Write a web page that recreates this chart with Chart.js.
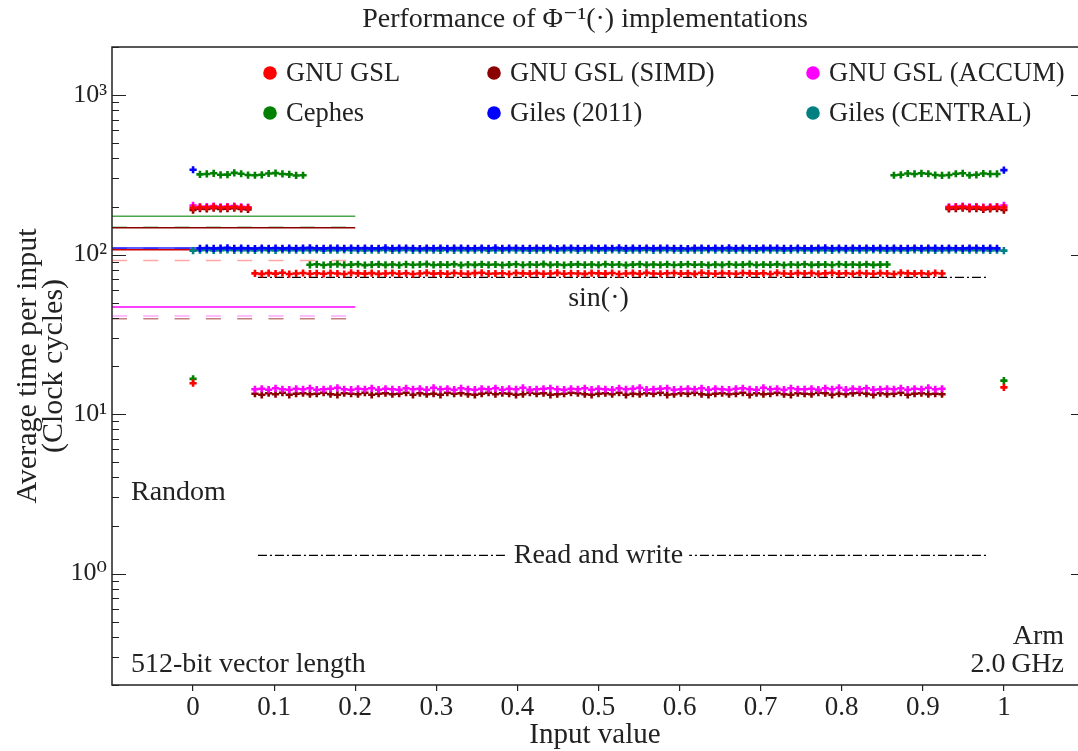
<!DOCTYPE html>
<html><head><meta charset="utf-8">
<script src="https://cdn.jsdelivr.net/npm/chart.js@4.4.1/dist/chart.umd.min.js"></script>
<style>html,body{margin:0;padding:0;background:#fff;}#wrap{width:1078px;height:751px;}</style>
</head><body><div id="wrap"><canvas id="c" width="1078" height="751"></canvas></div>
<script>
// ---------- DATA ----------
const inputs = [0,.0085,.0169,.0254,.0339,.0424,.0508,.0593,.0678,.0763,
.0847,.0932,.1017,.1102,.1186,.1271,.1356,.1441,.1525,.1610,
.1695,.1780,.1864,.1949,.2034,.2119,.2203,.2288,.2373,.2458,
.2542,.2627,.2712,.2797,.2881,.2966,.3051,.3136,.3220,.3305,
.3390,.3475,.3559,.3644,.3729,.3814,.3898,.3983,.4068,.4153,
.4237,.4322,.4407,.4492,.4576,.4661,.4746,.4831,.4915,.5000,
.5085,.5169,.5254,.5339,.5424,.5508,.5593,.5678,.5763,.5847,
.5932,.6017,.6102,.6186,.6271,.6356,.6441,.6525,.6610,.6695,
.6780,.6864,.6949,.7034,.7119,.7203,.7288,.7373,.7458,.7542,
.7627,.7712,.7797,.7881,.7966,.8051,.8136,.8220,.8305,.8390,
.8475,.8559,.8644,.8729,.8814,.8898,.8983,.9068,.9153,.9237,
.9322,.9407,.9492,.9576,.9661,.9746,.9831,.9915,1];

const gslY = [196,198,197,199,197,198,199,197,196,
76.2,75.6,76.4,75.9,76.8,75.4,76.1,76.6,75.8,76.3,
75.7,76.5,76.0,75.5,76.7,76.2,75.9,76.4,75.6,76.1,
76.6,75.8,76.3,75.4,76.0,76.7,75.9,76.2,75.7,76.5,
76.1,75.6,76.4,76.8,75.8,76.0,76.3,75.5,76.6,76.2,
75.9,76.4,75.7,76.1,76.7,75.8,76.3,76.0,75.6,76.5,
76.2,75.9,76.6,75.4,76.1,76.4,75.8,76.7,76.0,75.7,
76.3,76.5,75.9,76.2,75.6,76.8,76.1,75.8,76.4,76.0,
75.7,76.6,76.2,75.9,76.3,75.5,76.7,76.1,75.8,76.4,
76.0,76.5,75.6,76.2,76.8,75.9,76.3,75.7,76.6,76.1,
75.8,76.4,76.0,75.5,76.7,76.2,75.9,76.3,75.6,76.5,
76.1,
197,198,199,197,198,196,197,198,197];

const gslSimdY = [190,194,193,195,193,194,195,193,192,
13.4,13.2,13.5,13.3,13.6,13.2,13.4,13.5,13.3,13.4,
13.6,13.3,13.2,13.5,13.4,13.3,13.6,13.2,13.4,13.5,
13.3,13.4,13.6,13.2,13.5,13.3,13.4,13.2,13.6,13.4,
13.5,13.3,13.2,13.4,13.6,13.3,13.5,13.4,13.2,13.3,
13.6,13.4,13.5,13.2,13.3,13.4,13.6,13.5,13.3,13.2,
13.4,13.5,13.3,13.6,13.2,13.4,13.3,13.5,13.4,13.6,
13.2,13.3,13.5,13.4,13.6,13.3,13.2,13.4,13.5,13.3,
13.4,13.6,13.2,13.5,13.3,13.4,13.6,13.3,13.2,13.5,
13.4,13.3,13.6,13.5,13.2,13.4,13.3,13.5,13.6,13.4,
13.2,13.5,13.3,13.4,13.6,13.2,13.4,13.5,13.3,13.4,
13.3,
193,194,195,193,194,192,193,194,190];

const gslAccumY = [203,199,200,201,199,200,201,199,198,
14.3,14.4,14.2,14.5,14.3,14.2,14.4,14.3,14.5,14.2,
14.3,14.4,14.6,14.3,14.2,14.4,14.3,14.5,14.2,14.4,
14.3,14.2,14.5,14.3,14.4,14.2,14.6,14.3,14.4,14.2,
14.5,14.3,14.2,14.4,14.3,14.5,14.2,14.4,14.3,14.6,
14.2,14.3,14.4,14.5,14.3,14.2,14.4,14.3,14.5,14.2,
14.4,14.3,14.2,14.5,14.3,14.4,14.6,14.2,14.3,14.4,
14.5,14.2,14.3,14.4,14.3,14.5,14.2,14.4,14.3,14.2,
14.4,14.5,14.3,14.2,14.6,14.3,14.4,14.2,14.5,14.3,
14.3,14.4,14.2,14.5,14.3,14.6,14.2,14.4,14.3,14.5,
14.2,14.3,14.4,14.3,14.5,14.2,14.4,14.3,14.6,14.3,
14.4,
199,200,201,199,200,198,199,200,203];

const cephesY = [16.6,
318,320,323,316,317,325,321,315,314,316,322,324,320,318,313,314,
86.2,86.8,85.9,86.5,87.1,86.0,86.4,86.9,85.8,86.3,
86.7,86.1,86.5,85.9,86.8,86.2,86.6,87.0,86.0,86.4,
86.3,86.9,85.8,86.5,86.1,86.7,86.2,86.6,85.9,86.4,
86.8,86.0,86.5,86.3,87.1,86.1,86.6,85.9,86.4,86.7,
86.2,86.5,86.0,86.9,86.3,86.6,85.8,86.4,86.8,86.1,
86.5,86.2,86.7,86.0,86.4,86.9,86.3,86.6,85.9,86.5,
86.1,86.8,86.2,86.4,87.0,86.0,86.6,86.3,86.7,85.9,
86.5,86.2,86.8,86.1,86.4,86.6,86.0,86.9,86.3,86.5,
86.2,86.7,86.1,86.4,86.6,
314,316,322,320,323,321,315,313,315,321,323,314,316,322,320,320,
16.2];

const gilesY = [340,
109.4,109.8,109.2,109.6,110.0,109.3,109.7,109.5,109.1,109.8,
109.4,109.9,109.3,109.6,109.2,109.7,110.0,109.5,109.3,109.8,
109.6,109.2,109.9,109.4,109.7,109.3,109.5,110.0,109.2,109.6,
109.8,109.4,109.1,109.7,109.5,109.9,109.3,109.6,109.8,109.2,
109.5,109.7,109.4,110.0,109.3,109.6,109.9,109.2,109.5,109.8,
109.4,109.6,109.1,109.7,109.9,109.3,109.5,109.8,109.2,109.6,
109.4,110.0,109.3,109.7,109.5,109.9,109.2,109.6,109.8,109.4,
109.5,109.1,109.7,109.9,109.3,109.6,109.4,110.0,109.2,109.8,
109.5,109.3,109.7,109.6,109.9,109.2,109.4,109.8,109.5,109.3,
109.7,110.0,109.4,109.6,109.2,109.8,109.5,109.9,109.3,109.6,
109.4,109.7,109.2,109.5,109.9,109.3,109.8,109.6,109.4,109.7,
109.5,109.2,109.6,109.9,109.4,109.7,109.5,
338];

const gilesCentralY = [105.8,
106.4,106.7,106.2,106.5,106.8,106.3,106.6,106.4,106.1,106.7,
106.5,106.2,106.8,106.4,106.6,106.3,106.5,106.7,106.2,106.6,
106.4,106.8,106.3,106.5,106.1,106.6,106.4,106.7,106.2,106.5,
106.8,106.3,106.6,106.4,106.5,106.2,106.7,106.3,106.6,106.4,
106.5,106.8,106.2,106.6,106.3,106.7,106.4,106.5,106.1,106.6,
106.4,106.7,106.3,106.5,106.8,106.2,106.6,106.4,106.5,106.3,
106.7,106.4,106.2,106.6,106.5,106.8,106.3,106.4,106.7,106.5,
106.2,106.6,106.4,106.3,106.7,106.5,106.8,106.2,106.4,106.6,
106.5,106.3,106.7,106.4,106.6,106.2,106.5,106.8,106.3,106.4,
106.6,106.5,106.2,106.7,106.4,106.3,106.6,106.5,106.8,106.4,
106.2,106.6,106.5,106.3,106.7,106.4,106.5,106.2,106.6,106.4,
106.7,106.3,106.5,106.6,106.4,106.2,106.5,
105.8];

// isolated points at the interval ends
const edgeInputs = [0, 1];
const gslEdgeY = [15.6, 14.7];

// "Random" input reference lines (x from -0.1 to 0.2)
const randomX = [-0.1, 0.2];
const randomSolidY  = [174, 147, 110, 107, 46.8];   // Cephes, SIMD, Giles, GSL, ACCUM
const randomDashedY = [148, 39.5, 109.3, 91.7, 41.1];

// baseline reference lines
const baselineX = [0.08, 0.98];
const sinY = 71.8;
const readWriteY = 1.30;

const legendLabels = ['GNU GSL','GNU GSL (SIMD)','GNU GSL (ACCUM)','Cephes','Giles (2011)','Giles (CENTRAL)'];
const xTickValues = [0,0.1,0.2,0.3,0.4,0.5,0.6,0.7,0.8,0.9,1];

// ---------- STYLE ----------
const C = {gsl:'#ff0000', simd:'#8b0000', accum:'#ff00ff', cephes:'#008000', giles:'#0000ff', central:'#008080'};
const legendColors = [C.gsl, C.simd, C.accum, C.cephes, C.giles, C.central];
const FONT = "'Liberation Serif', 'DejaVu Serif', serif";

function pts(xs, ys){ const out=[]; for(let i=0;i<Math.min(xs.length,ys.length);i++){ if(ys[i]!=null) out.push({x:xs[i],y:ys[i]}); } return out; }
function scatter(label, data, color, order){
  return {type:'scatter', label, data, borderColor:color, backgroundColor:color, pointStyle:'cross',
    pointRadius:3.6, pointBorderWidth:2.6, pointHoverRadius:3.6, showLine:false, order};
}
function hline(xr, y, color, dash, width){
  return {type:'line', label:'', data:[{x:xr[0],y},{x:xr[1],y}], borderColor:color, borderWidth:width||1.5,
    borderDash:dash||[], pointRadius:0, fill:false, order:20};
}

const solidColors = ['rgba(0,128,0,0.7)', C.simd, 'rgba(0,0,255,0.85)', '#d00000', C.accum];
const dashedColors = ['rgba(0,128,0,0.55)', 'rgba(139,0,0,0.5)', 'rgba(0,0,255,0.45)', 'rgba(255,0,0,0.35)', 'rgba(255,0,255,0.35)'];

const datasets = [];
randomSolidY.forEach((y,i)=>datasets.push(hline(randomX, y, solidColors[i])));
randomDashedY.forEach((y,i)=>datasets.push(hline(randomX, y, dashedColors[i], [15,16.3])));
datasets.push(hline(baselineX, sinY, '#000', [9,3,2,3], 1.3));
datasets.push(hline(baselineX, readWriteY, '#000', [9,3,2,3], 1.3));

datasets.push(scatter('GNU GSL', pts(inputs,gslY).concat(pts(edgeInputs,gslEdgeY)), C.gsl, 0));
datasets.push(scatter('Cephes', pts(inputs,cephesY), C.cephes, 1));
datasets.push(scatter('Giles (2011)', pts(inputs,gilesY), C.giles, 2));
datasets.push(scatter('GNU GSL (ACCUM)', pts(inputs,gslAccumY), C.accum, 3));
datasets.push(scatter('GNU GSL (SIMD)', pts(inputs,gslSimdY), C.simd, 4));
datasets.push(scatter('Giles (CENTRAL)', pts(inputs,gilesCentralY), C.central, 5));

const supers = {'-1':'⁻¹','0':'⁰','1':'¹','2':'²','3':'³'};

const decorPlugin = {
  id:'decor',
  afterDatasetsDraw(chart){
    const {ctx, chartArea:a, scales:{x, y}} = chart;
    ctx.save();
    // spines: left, top, bottom (right spine lies just outside the canvas)
    const rightEdge = x.getPixelForValue(1.1);
    ctx.strokeStyle = '#222'; ctx.lineWidth = 1.5;
    ctx.beginPath();
    ctx.moveTo(rightEdge, a.top); ctx.lineTo(a.left, a.top); ctx.lineTo(a.left, a.bottom); ctx.lineTo(rightEdge, a.bottom);
    ctx.stroke();
    // y ticks (inward, both sides)
    ctx.lineWidth = 1.2;
    for (let e=-1;e<=3;e++){
      for (let m=1;m<=9;m++){
        const v = m*Math.pow(10,e);
        if (v < 0.2 - 1e-9 || v > 2000 + 1e-9) continue;
        const py = Math.round(y.getPixelForValue(v)) + 0.5;
        const len = m===1 ? 14 : 7;
        ctx.beginPath();
        ctx.moveTo(a.left, py); ctx.lineTo(a.left+len, py);
        ctx.moveTo(rightEdge, py); ctx.lineTo(rightEdge-len, py);
        ctx.stroke();
      }
    }
    // annotations
    ctx.fillStyle = '#222';
    ctx.font = '28px ' + FONT;
    ctx.textBaseline = 'middle';
    ctx.textAlign = 'left';
    ctx.fillText('Random', 131, 493);
    ctx.fillText('512-bit vector length', 131, 665);
    ctx.textAlign = 'right';
    ctx.fillText('Arm', 1064, 637);
    ctx.fillText('2.0\u2009GHz', 1064, 665);
    ctx.textAlign = 'center';
    const cx = x.getPixelForValue(0.5);
    ctx.fillText('sin(·)', cx, y.getPixelForValue(sinY) + 21);
    const rwY = y.getPixelForValue(readWriteY);
    const w = ctx.measureText('Read and write').width;
    ctx.fillStyle = '#fff';
    ctx.fillRect(cx - w/2 - 6, rwY - 12, w + 12, 24);
    ctx.fillStyle = '#222';
    ctx.fillText('Read and write', cx, rwY);
    // legend
    const colX = [270, 494, 813], rowY = [73, 113];
    ctx.font = '26.5px ' + FONT;
    ctx.textAlign = 'left';
    legendLabels.forEach((lab,i)=>{
      const cxl = colX[i%3], cyl = rowY[Math.floor(i/3)];
      ctx.fillStyle = legendColors[i];
      ctx.beginPath(); ctx.arc(cxl, cyl, 6.8, 0, Math.PI*2); ctx.fill();
      ctx.fillStyle = '#222';
      ctx.fillText(lab, cxl + 16, cyl + 1);
    });
    // title
    ctx.font = '28px ' + FONT;
    ctx.textAlign = 'center';
    ctx.fillText('Performance of Φ⁻¹(·) implementations', 585, 20);
    ctx.restore();
  }
};

new Chart(document.getElementById('c'), {
  data:{datasets},
  options:{
    responsive:false, animation:false, devicePixelRatio:1,
    layout:{autoPadding:false, padding:{top:47, right:0, left:0, bottom:0}},
    plugins:{legend:{display:false}, title:{display:false}, tooltip:{enabled:false}},
    scales:{
      x:{type:'linear', min:-0.1, max:1.0914,
        afterBuildTicks: s => { s.ticks = xTickValues.map(v=>({value:v})); },
        afterFit: s => { s.height = 66; s.paddingLeft = 0; s.paddingRight = 0; },
        grid:{display:true, drawOnChartArea:false, drawTicks:true, tickLength:6, color:'#222', lineWidth:1.2},
        border:{display:false},
        ticks:{autoSkip:false, maxRotation:0, padding:1, color:'#222', font:{family:FONT, size:27},
          callback: v => (Math.abs(v)<1e-9 ? '0' : Math.abs(v-1)<1e-9 ? '1' : Number(v).toFixed(1))},
        title:{display:true, text:'Input value', color:'#222', font:{family:FONT, size:29, lineHeight:1.1}, padding:{top:0,bottom:0}}
      },
      y:{type:'logarithmic', min:0.2, max:2000,
        afterFit: s => { s.width = 112; s.paddingTop = 0; s.paddingBottom = 0; },
        grid:{display:false, drawTicks:false},
        border:{display:false},
        ticks:{autoSkip:false, padding:5, color:'#222', font:{family:FONT, size:26},
          callback: v => { const e = Math.log10(v); if (Math.abs(e - Math.round(e)) < 1e-9) return '10' + supers[String(Math.round(e))]; return ''; }},
        title:{display:true, text:['Average time per input','(Clock cycles)'], color:'#222', font:{family:FONT, size:30, lineHeight:0.87}, padding:{top:15,bottom:0}}
      }
    }
  },
  plugins:[decorPlugin]
});
</script></body></html>
